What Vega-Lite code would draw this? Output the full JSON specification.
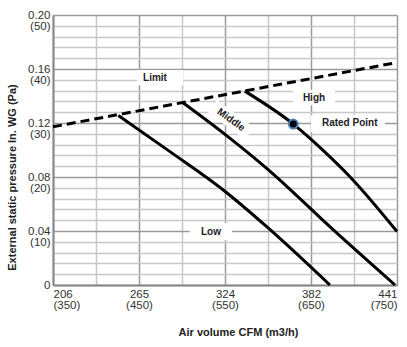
{
  "$schema": "https://vega.github.io/schema/vega-lite/v6.json",
  "width": 344,
  "height": 270,
  "autosize": {"type": "none"},
  "padding": {"left": 53, "top": 15, "right": 10, "bottom": 62},
  "background": "white",
  "config": {"view": {"stroke": null}, "font": "Liberation Sans"},
  "datasets": {
    "curves": [
      {"curve": "Low", "q": 426, "p": 31.4},
      {"curve": "Low", "q": 486, "p": 24.7},
      {"curve": "Low", "q": 548, "p": 17.6},
      {"curve": "Low", "q": 598.5, "p": 10.8},
      {"curve": "Low", "q": 672, "p": 0},
      {"curve": "Middle", "q": 500.8, "p": 33.8},
      {"curve": "Middle", "q": 550, "p": 27.9},
      {"curve": "Middle", "q": 598.5, "p": 21.6},
      {"curve": "Middle", "q": 676, "p": 10.2},
      {"curve": "Middle", "q": 747.7, "p": 0},
      {"curve": "High", "q": 573, "p": 35.9},
      {"curve": "High", "q": 629.4, "p": 29.8},
      {"curve": "High", "q": 665, "p": 24.8},
      {"curve": "High", "q": 695, "p": 20.1},
      {"curve": "High", "q": 750, "p": 9.9}
    ],
    "limit": [
      {"q": 350, "p": 29.3},
      {"q": 750, "p": 41.2}
    ],
    "boxes": [
      {"label": "Limit", "q": 447.7, "q2": 501.2, "p": 37.0, "p2": 39.8},
      {"label": "High", "q": 629, "q2": 678, "p": 33.3, "p2": 36.1},
      {"label": "Rated Point", "q": 650, "q2": 736, "p": 28.3, "p2": 31.5},
      {"label": "Low", "q": 509, "q2": 558, "p": 8.3, "p2": 11.5}
    ],
    "labels": [
      {"label": "Limit", "q": 468.6, "p": 38.4},
      {"label": "High", "q": 653.5, "p": 34.7},
      {"label": "Rated Point", "q": 695, "p": 30.0},
      {"label": "Low", "q": 533.7, "p": 9.9}
    ],
    "middle": [
      {"label": "Middle", "q": 557, "p": 30.6}
    ],
    "rated": [
      {"q": 629.4, "p": 29.8}
    ]
  },
  "encoding": {
    "x": {
      "field": "q",
      "type": "quantitative",
      "scale": {"domain": [350, 750], "nice": false, "zero": false},
      "axis": {
        "values": [350, 400, 450, 500, 550, 600, 650, 700, 750],
        "labelExpr": "datum.value==350?['206','(350)']:datum.value==450?['265','(450)']:datum.value==550?['324','(550)']:datum.value==650?['382','(650)']:datum.value==750?['441','(750)']:''",
        "labelFont": "Liberation Sans",
        "labelFontSize": 11.5,
        "labelLineHeight": 11.5,
        "labelColor": "#333",
        "labelBaseline": "top",
        "labelPadding": 3,
        "labelOverlap": false,
        "labelBound": false,
        "ticks": false,
        "domainColor": "#888",
        "domainWidth": 2,
        "grid": true,
        "gridColor": {"condition": {"test": "datum.value % 100 == 50", "value": "#9a9a9a"}, "value": "#c8c8c8"},
        "gridWidth": 1.5,
        "title": "Air volume CFM (m3/h)",
        "titleFont": "Liberation Sans",
        "titleFontSize": 11,
        "titleFontWeight": "bold",
        "titleColor": "#222",
        "titleX": 185,
        "titleY": 47,
        "titleBaseline": "middle",
        "titleAlign": "center"
      }
    },
    "y": {
      "field": "p",
      "type": "quantitative",
      "scale": {"domain": [0, 50], "nice": false},
      "axis": {
        "values": [0, 2, 4, 6, 8, 10, 12, 14, 16, 18, 20, 22, 24, 26, 28, 30, 32, 34, 36, 38, 40, 42, 44, 46, 48, 50],
        "labelExpr": "datum.value % 10 != 0 ? '' : datum.value == 0 ? '0' : [format(datum.value/250, '.2f'), '(' + datum.value + ')']",
        "labelFont": "Liberation Sans",
        "labelFontSize": 11.5,
        "labelLineHeight": 11.5,
        "labelColor": "#333",
        "labelPadding": 3,
        "labelOverlap": false,
        "labelBound": false,
        "ticks": false,
        "domainColor": "#888",
        "domainWidth": 2,
        "grid": true,
        "gridColor": {"condition": {"test": "datum.value % 10 == 0", "value": "#9a9a9a"}, "value": "#c8c8c8"},
        "gridWidth": 1.5,
        "title": "External static pressure In. WG (Pa)",
        "titleFont": "Liberation Sans",
        "titleFontSize": 11,
        "titleFontWeight": "bold",
        "titleColor": "#222",
        "titleAngle": -90,
        "titleX": -41,
        "titleY": 162,
        "titleBaseline": "middle",
        "titleAlign": "center"
      }
    }
  },
  "layer": [
    {
      "data": {"name": "boxes"},
      "mark": {"type": "rect", "fill": "white"},
      "encoding": {"x2": {"field": "q2"}, "y2": {"field": "p2"}}
    },
    {
      "data": {"name": "middle"},
      "mark": {"type": "point", "shape": "M-1,-0.33H1V0.33H-1Z", "filled": true, "fill": "white", "opacity": 1, "size": 2116, "angle": 36}
    },
    {
      "data": {"name": "curves"},
      "mark": {"type": "line", "color": "black", "strokeWidth": 3, "interpolate": "monotone"},
      "encoding": {"detail": {"field": "curve"}}
    },
    {
      "data": {"name": "limit"},
      "mark": {"type": "line", "color": "black", "strokeWidth": 3, "strokeDash": [9, 5]}
    },
    {
      "data": {"name": "rated"},
      "mark": {"type": "point", "filled": true, "fill": "black", "stroke": "#4a7ebb", "strokeWidth": 2, "opacity": 1, "size": 80}
    },
    {
      "data": {"name": "labels"},
      "mark": {"type": "text", "font": "Liberation Sans", "fontWeight": "bold", "fontSize": 10, "color": "#222"},
      "encoding": {"text": {"field": "label"}}
    },
    {
      "data": {"name": "middle"},
      "mark": {"type": "text", "font": "Liberation Sans", "fontWeight": "bold", "fontSize": 10, "color": "#222", "angle": 36},
      "encoding": {"text": {"field": "label"}}
    }
  ]
}
